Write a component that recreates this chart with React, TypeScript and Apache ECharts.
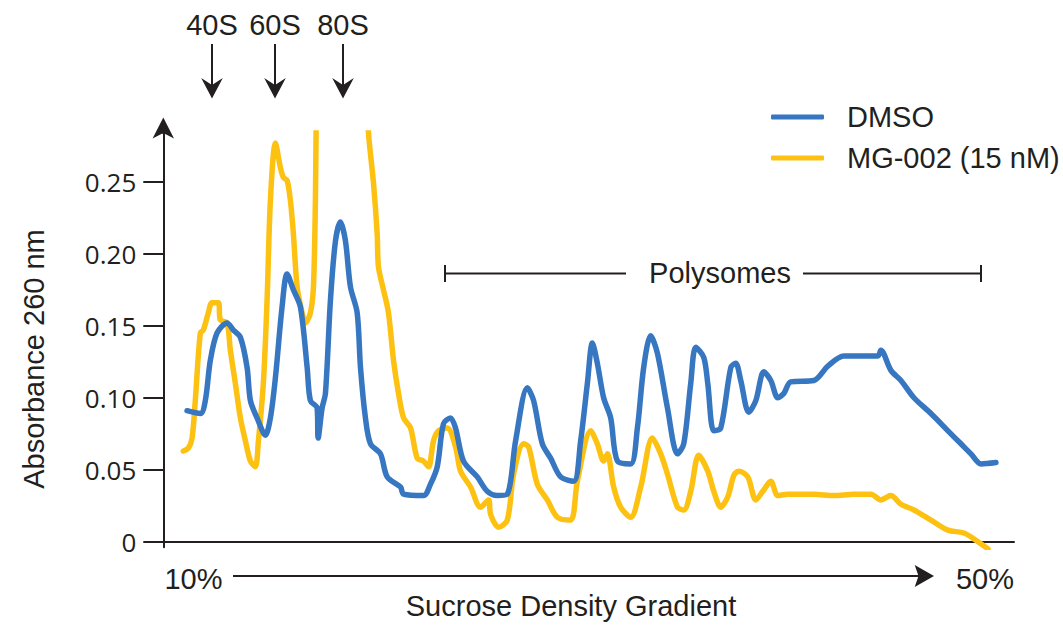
import React, { useEffect, useRef } from "react";
import * as echarts from "echarts";

// x: position along the gradient (0 = left end of axis, 100 = right end of axis)
const dmsoX = [2.79, 4.35, 4.94, 5.53, 6.32, 7.49, 8.24, 9.06, 9.85, 10.24, 11.02, 12.0, 12.59, 13.18, 13.96, 14.55, 15.29, 16.12, 16.91, 17.29, 18.08, 18.2, 18.67, 19.06, 19.65, 20.24, 20.82, 21.41, 22.0, 22.79, 23.18, 23.76, 24.35, 25.53, 26.32, 27.88, 28.24, 30.59, 31.41, 32.2, 32.94, 33.76, 34.35, 35.29, 36.91, 38.08, 39.26, 40.44, 41.41, 42.79, 43.53, 44.55, 45.53, 46.71, 48.24, 49.06, 49.85, 50.44, 51.02, 51.76, 52.59, 53.38, 54.94, 55.73, 56.47, 57.29, 58.08, 59.26, 60.44, 61.18, 62.0, 62.59, 63.53, 64.0, 64.71, 65.53, 66.71, 67.29, 67.88, 68.82, 69.65, 70.59, 71.41, 72.24, 72.94, 73.76, 76.47, 78.12, 80.0, 84.0, 84.35, 85.53, 86.71, 88.24, 90.24, 92.24, 93.76, 94.94, 96.12, 97.88];
const dmsoY = [0.091, 0.089, 0.098, 0.126, 0.145, 0.152, 0.147, 0.142, 0.121, 0.098, 0.086, 0.074, 0.086, 0.114, 0.163, 0.186, 0.175, 0.163, 0.121, 0.098, 0.093, 0.072, 0.093, 0.103, 0.168, 0.209, 0.222, 0.209, 0.177, 0.159, 0.121, 0.086, 0.068, 0.061, 0.045, 0.038, 0.033, 0.032, 0.040, 0.052, 0.082, 0.086, 0.079, 0.056, 0.045, 0.035, 0.032, 0.033, 0.070, 0.107, 0.098, 0.068, 0.058, 0.045, 0.042, 0.070, 0.110, 0.138, 0.124, 0.100, 0.086, 0.056, 0.054, 0.079, 0.121, 0.143, 0.131, 0.093, 0.061, 0.068, 0.110, 0.135, 0.128, 0.110, 0.077, 0.079, 0.121, 0.124, 0.112, 0.090, 0.098, 0.118, 0.112, 0.100, 0.103, 0.111, 0.112, 0.122, 0.129, 0.129, 0.133, 0.119, 0.112, 0.100, 0.089, 0.077, 0.068, 0.061, 0.054, 0.055];

const mgX = [2.35, 2.94, 3.38, 3.76, 4.35, 4.71, 5.29, 5.73, 6.47, 6.71, 7.49, 7.88, 8.47, 9.06, 9.65, 10.24, 10.82, 11.18, 11.76, 12.2, 12.59, 13.18, 13.76, 14.12, 14.55, 14.94, 15.29, 15.73, 16.32, 16.71, 17.29, 17.65, 17.88, 17.96, 18.12, 18.71, 20.24, 22.59, 23.76, 24.12, 24.71, 25.14, 25.29, 25.88, 26.47, 27.06, 27.65, 28.24, 29.06, 29.85, 30.59, 31.18, 31.76, 32.35, 33.38, 34.35, 34.94, 36.12, 37.29, 38.24, 38.47, 39.41, 40.44, 41.18, 42.35, 42.94, 43.96, 45.14, 46.32, 47.88, 48.67, 50.24, 51.02, 51.76, 52.2, 52.94, 53.76, 54.94, 56.12, 57.49, 58.47, 59.26, 60.44, 61.18, 62.0, 62.94, 64.0, 64.71, 65.53, 66.35, 67.06, 67.65, 68.71, 69.65, 70.47, 71.41, 72.24, 73.41, 76.47, 78.82, 81.18, 83.18, 84.35, 85.53, 86.71, 88.24, 90.24, 92.24, 94.12, 95.76, 96.94];
const mgY = [0.063, 0.065, 0.072, 0.098, 0.145, 0.147, 0.159, 0.166, 0.166, 0.154, 0.152, 0.133, 0.110, 0.086, 0.070, 0.056, 0.052, 0.070, 0.110, 0.168, 0.237, 0.277, 0.260, 0.253, 0.251, 0.237, 0.214, 0.177, 0.159, 0.152, 0.159, 0.177, 0.237, 0.284, 0.33, 0.40, 0.44, 0.42, 0.33, 0.284, 0.249, 0.214, 0.191, 0.175, 0.159, 0.126, 0.103, 0.086, 0.079, 0.058, 0.056, 0.052, 0.070, 0.077, 0.079, 0.066, 0.049, 0.038, 0.024, 0.029, 0.019, 0.010, 0.015, 0.047, 0.068, 0.066, 0.040, 0.029, 0.017, 0.015, 0.042, 0.077, 0.068, 0.056, 0.061, 0.038, 0.024, 0.017, 0.038, 0.072, 0.061, 0.047, 0.024, 0.022, 0.035, 0.060, 0.049, 0.035, 0.024, 0.031, 0.046, 0.049, 0.045, 0.029, 0.035, 0.042, 0.032, 0.033, 0.033, 0.032, 0.033, 0.033, 0.029, 0.032, 0.026, 0.022, 0.015, 0.008, 0.006, 0.000, -0.005];

const yTicks = [0, 0.05, 0.1, 0.15, 0.2, 0.25];
const seriesNames = ["DMSO", "MG-002 (15 nM)"];
const peakLabels = ["40S", "60S", "80S"];
const peakLabelX = [212, 275, 343];

const INK = "#231f20";
const BLUE = "#3776c0";
const YELLOW = "#fdc112";
const FONT = "'Liberation Sans', Arial, sans-serif";
const FS = 29;

function downArrow(x: number) {
  return [
    { type: "line", shape: { x1: x, y1: 44, x2: x, y2: 88 }, style: { stroke: INK, lineWidth: 2 } },
    {
      type: "polygon",
      shape: { points: [[x, 98.5], [x + 10.8, 78], [x, 85], [x - 10.8, 78]] },
      style: { fill: INK },
    },
  ];
}

function label(text: string, x: number, y: number, extra: any = {}) {
  return {
    type: "text",
    x,
    y,
    ...extra,
    style: { text, fill: INK, font: `${FS}px ${FONT}`, align: "center", verticalAlign: "middle" },
  };
}

export default function App() {
  const ref = useRef<HTMLDivElement>(null);
  useEffect(() => {
    if (!ref.current) return;
    const chart = echarts.init(ref.current, null, { renderer: "svg" });
    const zip = (xs: number[], ys: number[]) => xs.map((x, i) => [x, ys[i]]);
    const graphics: any[] = [];
    // y axis arrow extension
    graphics.push({ type: "line", shape: { x1: 163.3, y1: 134, x2: 163.3, y2: 126 }, style: { stroke: INK, lineWidth: 2 } });
    graphics.push({ type: "polygon", shape: { points: [[163.3, 117.5], [174, 138.5], [163.3, 133], [152.6, 138.5]] }, style: { fill: INK } });
    peakLabels.forEach((t, i) => {
      graphics.push(label(t, peakLabelX[i], 25));
      graphics.push(...downArrow(peakLabelX[i]));
    });
    // polysomes bracket
    graphics.push({ type: "line", shape: { x1: 445, y1: 273.5, x2: 626, y2: 273.5 }, style: { stroke: INK, lineWidth: 2 } });
    graphics.push({ type: "line", shape: { x1: 445, y1: 265, x2: 445, y2: 282 }, style: { stroke: INK, lineWidth: 2 } });
    graphics.push({ type: "line", shape: { x1: 803, y1: 273.5, x2: 981, y2: 273.5 }, style: { stroke: INK, lineWidth: 2 } });
    graphics.push({ type: "line", shape: { x1: 981, y1: 265, x2: 981, y2: 282 }, style: { stroke: INK, lineWidth: 2 } });
    graphics.push(label("Polysomes", 720, 273));
    // gradient arrow
    graphics.push(label("10%", 193.5, 579));
    graphics.push(label("50%", 985, 579));
    graphics.push({ type: "line", shape: { x1: 233, y1: 576, x2: 922, y2: 576 }, style: { stroke: INK, lineWidth: 2 } });
    graphics.push({ type: "polygon", shape: { points: [[934, 576], [914.7, 565], [918.5, 576], [914.7, 587]] }, style: { fill: INK } });
    graphics.push(label("Sucrose Density Gradient", 571, 606));
    graphics.push(label("Absorbance 260 nm", 34, 359, { rotation: Math.PI / 2 }));

    chart.setOption({
      animation: false,
      backgroundColor: "#ffffff",
      grid: { left: 163.3, right: 49, top: 133, bottom: 81.7, containLabel: false },
      legend: {
        orient: "vertical",
        left: 766,
        top: 97,
        data: seriesNames,
        icon: "roundRect",
        itemWidth: 53,
        itemHeight: 5,
        itemGap: 11,
        textStyle: { fontFamily: FONT, fontSize: FS, color: INK, lineHeight: 30, padding: [0, 0, 0, 18] },
      },
      xAxis: {
        type: "value",
        min: 0,
        max: 100,
        axisLine: { show: true, lineStyle: { color: INK, width: 2 } },
        axisTick: { show: false },
        axisLabel: { show: false },
        splitLine: { show: false },
      },
      yAxis: {
        type: "value",
        min: -0.0039,
        max: 0.2839,
        axisLine: { show: true, lineStyle: { color: INK, width: 2 } },
        axisTick: { show: true, length: 20, customValues: yTicks, lineStyle: { color: INK, width: 2 } },
        axisLabel: {
          show: true,
          customValues: yTicks,
          margin: 27,
          fontFamily: "'Open Sans', sans-serif",
          fontSize: 26,
          color: INK,
          formatter: (v: number) => (Math.abs(v) < 1e-9 ? "0" : v.toFixed(2)),
        },
        splitLine: { show: false },
      },
      series: [
        {
          name: seriesNames[1],
          type: "line",
          data: zip(mgX, mgY),
          showSymbol: false,
          symbol: "none",
          clip: true,
          smooth: 0.3,
          lineStyle: { color: YELLOW, width: 5.5, join: "round", cap: "round" },
          itemStyle: { color: YELLOW },
          z: 2,
        },
        {
          name: seriesNames[0],
          type: "line",
          data: zip(dmsoX, dmsoY),
          showSymbol: false,
          symbol: "none",
          clip: true,
          smooth: 0.3,
          lineStyle: { color: BLUE, width: 5.5, join: "round", cap: "round" },
          itemStyle: { color: BLUE },
          z: 3,
        },
      ],
      graphic: graphics,
    });
    return () => chart.dispose();
  }, []);
  return <div ref={ref} style={{ position: "fixed", left: 0, top: 0, width: 1063, height: 629 }} />;
}
